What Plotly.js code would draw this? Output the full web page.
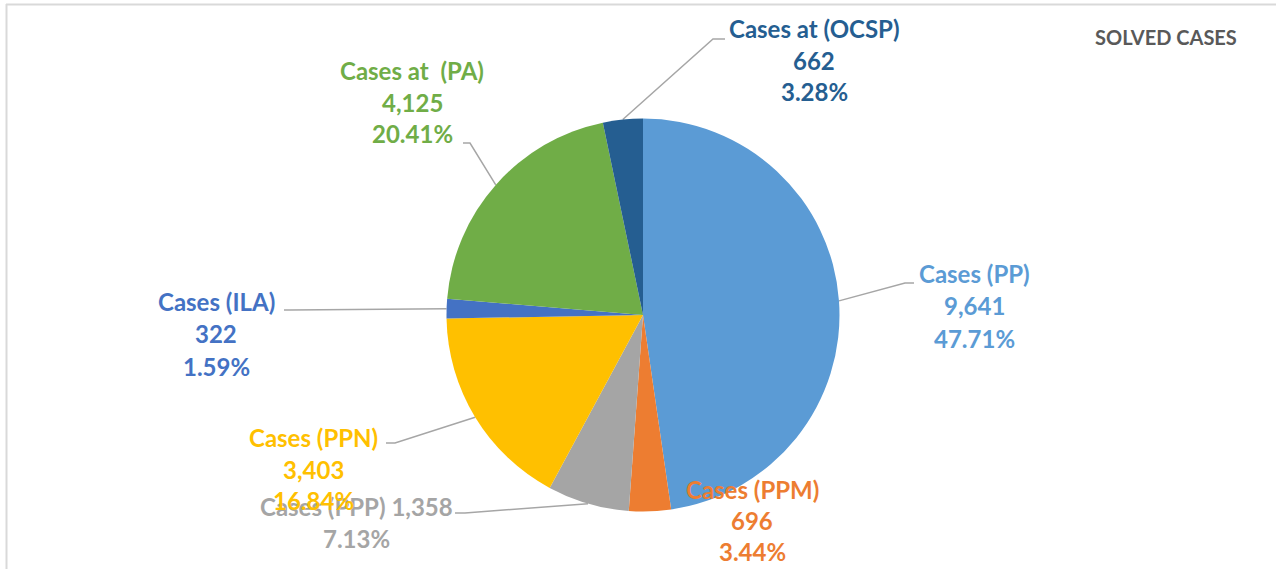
<!DOCTYPE html>
<html><head><meta charset="utf-8">
<script src="https://cdn.plot.ly/plotly-3.0.1.min.js"></script>
<style>html,body{margin:0;padding:0;background:#fff;}#chart{width:1276px;height:569px;}</style>
</head><body><div id="chart"></div>
<script>
// ---- data ----
const categories = ["Cases (PP)", "Cases (PPM)", "Cases (PPP)", "Cases (PPN)", "Cases (ILA)", "Cases at  (PA)", "Cases at (OCSP)"];
const caseCounts = [9641, 696, 1358, 3403, 322, 4125, 662];
const percentLabels = ["47.71%", "3.44%", "7.13%", "16.84%", "1.59%", "20.41%", "3.28%"];
const chartTitle = "SOLVED CASES";

// ---- style / layout ----
const colors = ["#5B9BD5", "#ED7D31", "#A5A5A5", "#FFC000", "#4472C4", "#70AD47", "#255E91"];
const W = 1276, H = 569;
const pieC = {x: 643, y: 315, r: 196.5};
const labelFont = "Lato, 'Open Sans', sans-serif";
// label layout: center x, line ys, leader elbow + end (px)
const labelLayout = [
  {cx: 974, ys: [273, 305, 338], elbow: [905, 283], end: [914, 283]},
  {cx: 752, ys: [489, 520, 551], elbow: null},
  {cx: 356, ys: [506, 538], join: true, elbow: [465, 513], end: [455, 513]},
  {cx: 313, ys: [437, 469, 500], elbow: [395, 443], end: [386, 443]},
  {cx: 216, ys: [301, 333, 366], elbow: [290, 310], end: [284, 310]},
  {cx: 412, ys: [70, 102, 133], elbow: [470, 143], end: [463, 143]},
  {cx: 814, ys: [29, 60, 92], elbow: [713, 39], end: [725, 39]}
];

const fmt = v => v.toLocaleString("en-US");
const px = x => x / W, py = y => 1 - y / H;
const total = caseCounts.reduce((a, b) => a + b, 0);

const annotations = [];
const shapes = [];
let cum = 0;
categories.forEach((cat, i) => {
  const L = labelLayout[i];
  const mid = (cum + caseCounts[i] / 2) / total * 2 * Math.PI;
  cum += caseCounts[i];
  const lines = L.join ? [cat + " " + fmt(caseCounts[i]), percentLabels[i]]
                       : [cat, fmt(caseCounts[i]), percentLabels[i]];
  lines.forEach((t, k) => {
    annotations.push({
      x: px(L.cx), y: py(L.ys[k]), xref: "paper", yref: "paper",
      xanchor: "center", yanchor: "middle", showarrow: false,
      text: t, font: {family: labelFont, size: 24, color: colors[i], weight: 700}
    });
  });
  if (L.elbow) {
    const sx = pieC.x + pieC.r * Math.sin(mid), sy = pieC.y - pieC.r * Math.cos(mid);
    shapes.push({
      type: "path", xref: "paper", yref: "paper",
      path: `M ${px(sx)} ${py(sy)} L ${px(L.elbow[0])} ${py(L.elbow[1])} L ${px(L.end[0])} ${py(L.end[1])}`,
      line: {color: "#A6A6A6", width: 1.5}, layer: "below"
    });
  }
});

annotations.push({
  x: px(1166), y: py(37), xref: "paper", yref: "paper", xanchor: "center", yanchor: "middle",
  showarrow: false, text: chartTitle,
  font: {family: labelFont, size: 20, color: "#595959", weight: 700}
});

// frame
shapes.push({type: "line", xref: "paper", yref: "paper", x0: px(6), y0: py(4.5), x1: 1, y1: py(4.5), line: {color: "#D9D9D9", width: 2}});
shapes.push({type: "line", xref: "paper", yref: "paper", x0: px(6.5), y0: py(4), x1: px(6.5), y1: 0, line: {color: "#D9D9D9", width: 2}});

const trace = {
  type: "pie", labels: categories, values: caseCounts, sort: false, direction: "clockwise", rotation: 0,
  marker: {colors: colors, line: {color: "#ffffff", width: 0}},
  textinfo: "none", hoverinfo: "label+value+percent", showlegend: false,
  domain: {x: [px(pieC.x - pieC.r), px(pieC.x + pieC.r)], y: [py(pieC.y + pieC.r), py(pieC.y - pieC.r)]}
};

Plotly.newPlot("chart", [trace], {
  width: W, height: H, margin: {l: 0, r: 0, t: 0, b: 0},
  paper_bgcolor: "#ffffff", plot_bgcolor: "#ffffff",
  annotations: annotations, shapes: shapes, showlegend: false
}, {displayModeBar: false, staticPlot: true});
</script></body></html>
